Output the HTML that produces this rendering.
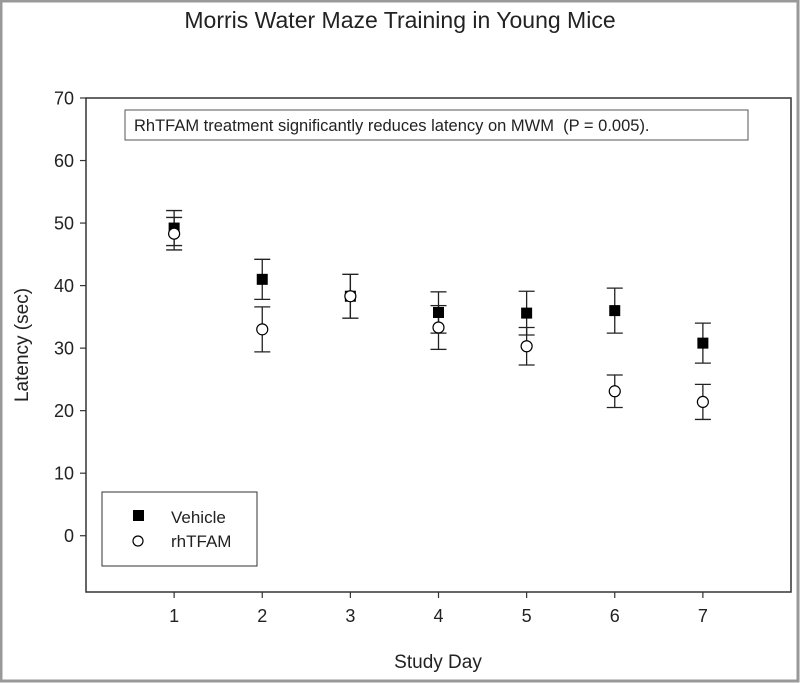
<!DOCTYPE html>
<html><head><meta charset="utf-8"><style>
html,body{margin:0;padding:0;background:#fff}
svg{display:block;font-family:"Liberation Sans",Arial,sans-serif}
</style></head><body>
<svg id="chart" width="800" height="683" viewBox="0 0 800 683">
<rect x="1" y="1" width="797" height="680" fill="none" stroke="#999" stroke-width="3"/>
<text x="400" y="28" text-anchor="middle" font-size="23" fill="#222">Morris Water Maze Training in Young Mice</text>
<rect x="86" y="98" width="705" height="494" fill="none" stroke="#333" stroke-width="1.5"/>
<rect x="125" y="110" width="623" height="30" fill="#fff" stroke="#555" stroke-width="1"/>
<text x="134" y="131" font-size="16.5" fill="#222">RhTFAM treatment significantly reduces latency on MWM&#160; (P = 0.005).</text>
<text transform="translate(28,345) rotate(-90)" text-anchor="middle" font-size="19" fill="#222">Latency (sec)</text>
<text x="438" y="668" text-anchor="middle" font-size="19" fill="#222">Study Day</text>
<g id="axes"></g>
<g id="marks"></g>
<rect x="102" y="492" width="155" height="74" fill="#fff" stroke="#333" stroke-width="1"/>
<rect x="133" y="510" width="11" height="11" fill="#000"/>
<text x="171" y="523" font-size="17" fill="#222">Vehicle</text>
<circle cx="138" cy="541" r="5" fill="#fff" stroke="#000" stroke-width="1.2"/>
<text x="171" y="547" font-size="17" fill="#222">rhTFAM</text>
</svg>
<script>
const days = [1,2,3,4,5,6,7];
const vehicleMean = [49.2,41.0,38.3,35.7,35.6,36.0,30.8];
const vehicleErr = [2.8,3.2,3.5,3.3,3.5,3.6,3.2];
const rhtfamMean = [48.3,33.0,38.3,33.3,30.3,23.1,21.4];
const rhtfamErr = [2.6,3.6,3.5,3.5,3.0,2.6,2.8];
const yTicks = [0,10,20,30,40,50,60,70];
const xTicks = [1,2,3,4,5,6,7];

const X0=86,X1=791,Y0=592,Y1=98,xmin=0,xmax=8,ymin=-9,ymax=70;
const xs=v=>X0+(v-xmin)/(xmax-xmin)*(X1-X0);
const ys=v=>Y0-(v-ymin)/(ymax-ymin)*(Y0-Y1);
const NS="http://www.w3.org/2000/svg";
const axes=document.getElementById('axes');
const marks=document.getElementById('marks');
function mk(tag,attrs,parent){const e=document.createElementNS(NS,tag);for(const k in attrs)e.setAttribute(k,attrs[k]);parent.appendChild(e);return e;}

yTicks.forEach(t=>{
  const l=mk('line',{x1:X0-6,x2:X0,y1:ys(t),y2:ys(t),stroke:'#333','stroke-width':1.2},axes);
  
  
  const tx=mk('text',{x:X0-12,y:ys(t)+6.5,'text-anchor':'end','font-size':18,fill:'#222'},axes);
  tx.textContent=t;
  
  
});
xTicks.forEach(t=>{
  const l=mk('line',{x1:xs(t),x2:xs(t),y1:Y0,y2:Y0+6,stroke:'#333','stroke-width':1.2},axes);
  
  
  const tx=mk('text',{x:xs(t),y:Y0+30,'text-anchor':'middle','font-size':18,fill:'#222'},axes);
  tx.textContent=t;
  
  
});

function errbar(d,m,e,name){
  const g=mk('g',{stroke:'#222','stroke-width':1.3},marks);
  
  
  const x=xs(d);
  mk('line',{x1:x,x2:x,y1:ys(m+e),y2:ys(m-e)},g);
  mk('line',{x1:x-8,x2:x+8,y1:ys(m+e),y2:ys(m+e)},g);
  mk('line',{x1:x-8,x2:x+8,y1:ys(m-e),y2:ys(m-e)},g);
}
days.forEach((d,i)=>{
  errbar(d,vehicleMean[i],vehicleErr[i],'vehicle-error-bar');
  errbar(d,rhtfamMean[i],rhtfamErr[i],'rhtfam-error-bar');
});
days.forEach((d,i)=>{
  const r=mk('rect',{x:xs(d)-5.5,y:ys(vehicleMean[i])-5.5,width:11,height:11,fill:'#000'},marks);
  
  
});
days.forEach((d,i)=>{
  const c=mk('circle',{cx:xs(d),cy:ys(rhtfamMean[i]),r:5.5,fill:'#fff',stroke:'#000','stroke-width':1.2},marks);
  
  
});
</script>
</body></html>
